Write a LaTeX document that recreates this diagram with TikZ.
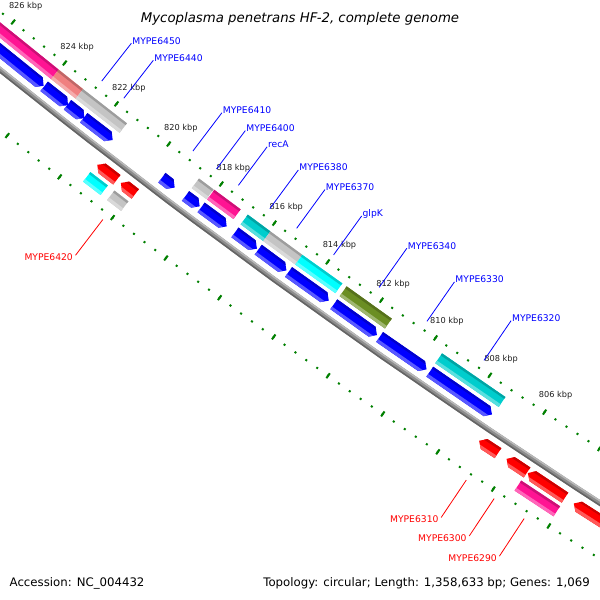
\documentclass[tikz,border=0pt]{standalone}
\usepackage{fontspec}
\setmainfont{DejaVu Sans}
\definecolor{gblue}{RGB}{0,0,255}
\definecolor{gred}{RGB}{255,0,0}
\definecolor{cpink}{RGB}{255,20,147}
\definecolor{csalmon}{RGB}{240,128,128}
\definecolor{cgray}{RGB}{196,196,196}
\definecolor{cteal}{RGB}{0,205,205}
\definecolor{ccyan}{RGB}{0,255,255}
\definecolor{colive}{RGB}{107,142,35}
\definecolor{tickgreen}{RGB}{0,128,0}
\definecolor{rulertext}{RGB}{30,30,30}
\definecolor{bbmid}{RGB}{140,140,140}
\definecolor{bblight}{RGB}{185,185,185}
\definecolor{bbdark}{RGB}{100,100,100}
\pgfmathdeclarefunction{kang}{1}{\pgfmathparse{123.674+0.26195*(#1-806)}}
\tikzset{
  genelab/.style={inner sep=0pt, font=\fontsize{9.2}{11}\selectfont},
  inlab/.style={genelab, text=gblue, anchor=base west},
  outlab/.style={genelab, text=gred, anchor=north east},
  inleader/.style={draw=gblue, line width=0.8pt},
  outleader/.style={draw=gred, line width=0.8pt},
  rulerlab/.style={inner sep=0pt, text=rulertext, font=\fontsize{8.2}{10}\selectfont},
  minortick/.style={draw=tickgreen, line width=2pt},
  majortick/.style={draw=tickgreen, line width=2pt},
  titletext/.style={inner sep=0pt, font=\fontsize{13.3}{16}\selectfont\itshape},
  bottomtext/.style={inner sep=0pt, font=\fontsize{11.75}{14}\selectfont},
}
% shading inside a clip: base, inner shadow, outer highlight
\newcommand\ShadeFeat[4]{%
  \fill[#4] ({kang(#1+0.3)}:{#3-7}) -- ({kang(#2-0.3)}:{#3-7}) -- ({kang(#2-0.3)}:{#3+7}) -- ({kang(#1+0.3)}:{#3+7}) -- cycle;
  \fill[#4!80!black] ({kang(#1+0.3)}:{#3-7}) -- ({kang(#2-0.3)}:{#3-7}) -- ({kang(#2-0.3)}:{#3-3.6}) -- ({kang(#1+0.3)}:{#3-3.6}) -- cycle;
  \fill[#4!65!white] ({kang(#1+0.3)}:{#3+2.8}) -- ({kang(#2-0.3)}:{#3+2.8}) -- ({kang(#2-0.3)}:{#3+7}) -- ({kang(#1+0.3)}:{#3+7}) -- cycle;}
\newcommand\RevGene[4]{\begin{scope}
  \clip ({kang(#1)}:{#3-6}) -- ({kang(#2+0.18)}:{#3-6}) -- ({kang(#2)}:{#3}) -- ({kang(#2+0.18)}:{#3+6}) -- ({kang(#1)}:{#3+6}) -- cycle;
  \ShadeFeat{#1}{#2}{#3}{#4}\end{scope}}
\newcommand\FwdGene[4]{\begin{scope}
  \clip ({kang(#1)}:{#3}) -- ({kang(#1-0.18)}:{#3-6}) -- ({kang(#2)}:{#3-6}) -- ({kang(#2)}:{#3+6}) -- ({kang(#1-0.18)}:{#3+6}) -- cycle;
  \ShadeFeat{#1}{#2}{#3}{#4}\end{scope}}
\newcommand\CogBar[4]{\begin{scope}
  \clip ({kang(#1)}:{#3-6}) -- ({kang(#2)}:{#3-6}) -- ({kang(#2)}:{#3+6}) -- ({kang(#1)}:{#3+6}) -- cycle;
  \ShadeFeat{#1}{#2}{#3}{#4}\end{scope}}
\newcommand\InLabel[3]{%
  \coordinate (#1a) at ({kang(#2)}:7203);
  \coordinate (#1b) at ({kang(#2)}:7155);
  \draw[inleader] (#1a) -- (#1b);
  \node[inlab] (#1) at ([xshift=0.8pt,yshift=-0.8pt]#1b) {#3};}
\newcommand\OutLabel[3]{%
  \coordinate (#1a) at ({kang(#2)}:7312);
  \coordinate (#1b) at ({kang(#2)}:7357);
  \draw[outleader] (#1a) -- (#1b);
  \node[outlab] (#1) at ([xshift=-2.5pt,yshift=1.6pt]#1b) {#3};}
\begin{document}
\begin{tikzpicture}[x=1pt,y=-1pt]
\useasboundingbox (0,0) rectangle (600,600);
\clip (0,0) rectangle (600,600);
\fill[white] (0,0) rectangle (600,600);
\begin{scope}[shift={(4543.1,-5589.5)}]
  % rulers
  \foreach \i in {0,...,75}{%
    \pgfmathsetmacro\kb{800+0.4*\i}%
    \draw[minortick] ({kang(\kb)}:7211) -- ({kang(\kb)}:7213);
    \draw[minortick] ({kang(\kb)}:7303.5) -- ({kang(\kb)}:7305.5);
  }
  \foreach \k in {800,802,...,830}{%
    \draw[majortick] ({kang(\k)}:7209) -- ({kang(\k)}:7215);
    \draw[majortick] ({kang(\k)}:7301.5) -- ({kang(\k)}:7307.5);
  }
  \foreach \k in {806,808,...,826}{\node[rulerlab] (rl\k) at ({kang(\k)}:7192) {\k\ kbp};}
  % inner COG track
  \CogBar{828}{824.02}{7227}{cpink}
  \CogBar{824.02}{823.07}{7227}{csalmon}
  \CogBar{823.07}{821.39}{7227}{cgray}
  \CogBar{818.64}{818.09}{7227}{cgray}
  \CogBar{818.06}{817.07}{7227}{cpink}
  \CogBar{816.80}{815.95}{7227}{cteal}
  \CogBar{815.95}{814.75}{7227}{cgray}
  \CogBar{814.75}{813.26}{7227}{ccyan}
  \CogBar{813.10}{811.42}{7227}{colive}
  \CogBar{809.57}{807.24}{7227}{cteal}
  % reverse strand genes
  \RevGene{828}{824.07}{7243}{gblue}
  \RevGene{824.05}{823.13}{7243}{gblue}
  \RevGene{823.15}{822.50}{7243}{gblue}
  \RevGene{822.52}{821.42}{7243}{gblue}
  \RevGene{819.55}{819.06}{7243}{gblue}
  \RevGene{818.65}{818.12}{7243}{gblue}
  \RevGene{818.06}{817.10}{7243}{gblue}
  \RevGene{816.79}{815.97}{7243}{gblue}
  \RevGene{815.92}{814.86}{7243}{gblue}
  \RevGene{814.78}{813.29}{7243}{gblue}
  \RevGene{813.10}{811.50}{7243}{gblue}
  \RevGene{811.40}{809.68}{7243}{gblue}
  \RevGene{809.56}{807.28}{7243}{gblue}
  % backbone
  \draw[line width=5.4pt, bbmid] plot[domain=798:832, samples=35] ({kang(\x)}:7257.5);
  \draw[line width=1.5pt, bblight] plot[domain=798:832, samples=35] ({kang(\x)}:7255.6);
  \draw[line width=1.5pt, bbdark] plot[domain=798:832, samples=35] ({kang(\x)}:7259.4);
  % forward strand genes
  \FwdGene{821.33}{820.59}{7272}{gred}
  \FwdGene{820.44}{819.89}{7272}{gred}
  \FwdGene{807.16}{806.48}{7272}{gred}
  \FwdGene{806.17}{805.43}{7272}{gred}
  \FwdGene{805.40}{804.06}{7272}{gred}
  \FwdGene{803.74}{801.00}{7272}{gred}
  % outer COG track
  \CogBar{821.36}{820.70}{7288}{ccyan}
  \CogBar{820.45}{819.92}{7288}{cgray}
  \CogBar{805.44}{804.04}{7288}{cpink}
  % labels
  \InLabel{l6450}{822.78}{MYPE6450}
  \InLabel{l6440}{821.93}{MYPE6440}
  \InLabel{l6410}{819.29}{MYPE6410}
  \InLabel{l6400}{818.39}{MYPE6400}
  \InLabel{lreca}{817.56}{recA}
  \InLabel{l6380}{816.37}{MYPE6380}
  \InLabel{l6370}{815.36}{MYPE6370}
  \InLabel{lglpk}{813.98}{glpK}
  \InLabel{l6340}{812.28}{MYPE6340}
  \InLabel{l6330}{810.50}{MYPE6330}
  \InLabel{l6320}{808.40}{MYPE6320}
  \OutLabel{l6420}{820.20}{MYPE6420}
  \OutLabel{l6310}{806.82}{MYPE6310}
  \OutLabel{l6300}{805.82}{MYPE6300}
  \OutLabel{l6290}{804.74}{MYPE6290}
\end{scope}
\node[titletext, anchor=base] (title) at (300,22.5) {Mycoplasma penetrans HF-2, complete genome};
\node[bottomtext, anchor=base west] (acc) at (9.5,586) {Accession: NC\_004432};
\node[bottomtext, anchor=base east] (topo) at (590,586) {Topology: circular; Length: 1,358,633 bp; Genes: 1,069};
\end{tikzpicture}
\end{document}
